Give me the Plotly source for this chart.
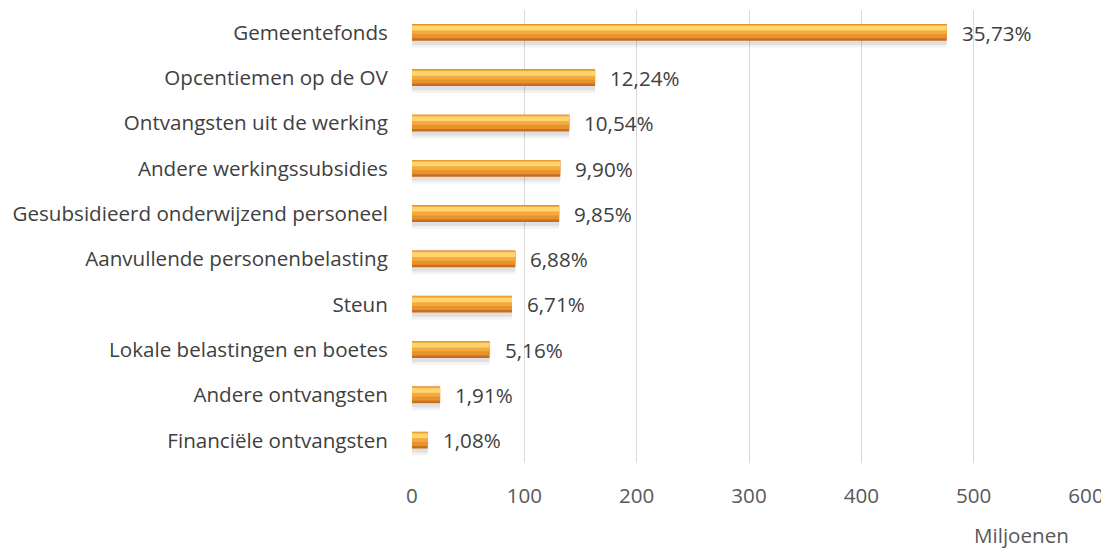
import plotly.graph_objects as go

categories = [
    "Gemeentefonds",
    "Opcentiemen op de OV",
    "Ontvangsten uit de werking",
    "Andere werkingssubsidies",
    "Gesubsidieerd onderwijzend personeel",
    "Aanvullende personenbelasting",
    "Steun",
    "Lokale belastingen en boetes",
    "Andere ontvangsten",
    "Financiële ontvangsten",
]
values = [476, 163, 140, 132, 131, 92, 89, 69, 25, 14]
pct_labels = ["35,73%", "12,24%", "10,54%", "9,90%", "9,85%", "6,88%", "6,71%", "5,16%", "1,91%", "1,08%"]
x_ticks = [0, 100, 200, 300, 400, 500, 600]

FONT = "Open Sans"
FS = 20.6
fig = go.Figure()

def layer(width, offset, color):
    fig.add_trace(go.Bar(y=categories, x=values, orientation="h", width=width, offset=offset,
                         marker=dict(color=color, line=dict(width=0)), hoverinfo="skip"))

# soft shadow below the bar
layer(0.48, -0.15, "rgba(0,0,0,0.05)")
layer(0.42, -0.15, "rgba(0,0,0,0.07)")
# bar body layers (cylinder-like shading)
layer(0.37, -0.19, "#C96E1E")   # dark edge / bottom
layer(0.31, -0.185, "#E8922E")  # main orange
layer(0.21, -0.175, "#F4AA3E")  # lighter orange
layer(0.10, -0.15, "#FFD66E")   # highlight

for c, v, t in zip(categories, values, pct_labels):
    fig.add_annotation(x=v, y=c, text=t, showarrow=False, xanchor="left", yanchor="middle",
                       xshift=13, font=dict(family=FONT, size=FS, color="#404040"))

fig.add_annotation(x=0.905, y=-0.159, xref="paper", yref="paper", text="Miljoenen", showarrow=False,
                   xanchor="center", yanchor="middle", font=dict(family=FONT, size=FS, color="#595959"))

# the page body has an 8px margin, so the figure is shifted by (8, 8)
fig.update_layout(
    width=1101, height=540,
    margin=dict(l=404, r=23, t=2, b=85, autoexpand=False),
    paper_bgcolor="white", plot_bgcolor="white",
    barmode="overlay", showlegend=False,
    font=dict(family=FONT, size=FS, color="#404040"),
    xaxis=dict(range=[0, 600], tickvals=x_ticks, showgrid=True, gridcolor="#D9D9D9", gridwidth=1,
               zeroline=False, showline=False, ticks="outside", ticklen=14, tickcolor="rgba(0,0,0,0)",
               automargin=False, tickfont=dict(family=FONT, size=FS, color="#595959")),
    yaxis=dict(categoryorder="array", categoryarray=categories, autorange="reversed",
               showgrid=False, zeroline=False, showline=False, ticks="outside", ticklen=19,
               automargin=False, tickcolor="rgba(0,0,0,0)",
               tickfont=dict(family=FONT, size=FS, color="#404040")),
)

fig.write_html("out.html")
